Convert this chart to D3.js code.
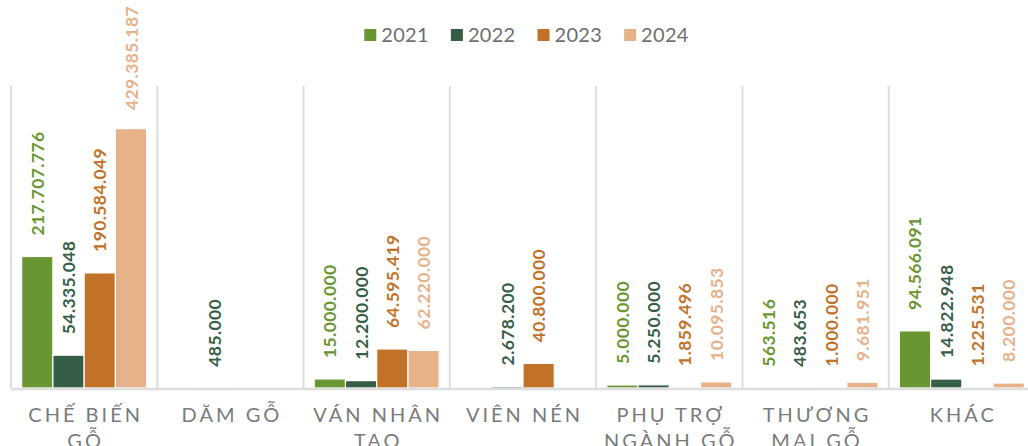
<!DOCTYPE html>
<html>
<head>
<meta charset="utf-8">
<script src="https://cdn.jsdelivr.net/npm/d3@7"></script>
<style>
  html, body { margin: 0; padding: 0; background: #fff; }
  svg { display: block; }
</style>
</head>
<body>
<svg id="chart" width="1028" height="446"></svg>
<script>
const categories = ["CHẾ BIẾN GỖ", "DĂM GỖ", "VÁN NHÂN TẠO", "VIÊN NÉN", "PHỤ TRỢ NGÀNH GỖ", "THƯƠNG MẠI GỖ", "KHÁC"];
const years = ["2021", "2022", "2023", "2024"];
const values2021 = [217707776, null, 15000000, null, 5000000, 563516, 94566091];
const values2022 = [54335048, 485000, 12200000, 2678200, 5250000, 483653, 14822948];
const values2023 = [190584049, null, 64595419, 40800000, 1859496, 1000000, 1225531];
const values2024 = [429385187, null, 62220000, null, 10095853, 9681951, 8200000];
const colors = ["#6a9632", "#365e46", "#c27128", "#e7b189"];

const seriesValues = [values2021, values2022, values2023, values2024];

const svg = d3.select("#chart");
const W = 1028, H = 446;
const plotLeft = 11, plotRight = 1035, plotTop = 86, plotBottom = 388;

const locale = d3.formatLocale({ decimal: ",", thousands: ".", grouping: [3], currency: ["", ""] });
const fmt = locale.format(",d");

const x0 = d3.scaleBand().domain(categories).range([plotLeft, plotRight]).paddingInner(0).paddingOuter(0);
const x1 = d3.scaleBand().domain(years).range([0, x0.bandwidth()]).paddingInner(0).paddingOuter(0.34);
const y = d3.scaleLinear().domain([0, 500000000]).range([plotBottom, plotTop]);

// vertical dividers
svg.append("g").selectAll("line").data(categories).join("line")
  .attr("x1", d => x0(d)).attr("x2", d => x0(d))
  .attr("y1", plotTop).attr("y2", plotBottom)
  .attr("stroke", "#dddddd").attr("stroke-width", 2);

// bars
const rows = [];
categories.forEach((c, ci) => {
  years.forEach((yr, si) => {
    const v = seriesValues[si][ci];
    if (v !== null && v !== undefined) rows.push({ c, yr, si, v });
  });
});

svg.append("g").selectAll("rect").data(rows).join("rect")
  .attr("x", d => x0(d.c) + x1(d.yr))
  .attr("y", d => y(d.v))
  .attr("width", x1.bandwidth())
  .attr("height", d => plotBottom - y(d.v))
  .attr("fill", d => colors[d.si])
  .attr("stroke", "#ffffff")
  .attr("stroke-width", 1.2);

// baseline
svg.append("line")
  .attr("x1", plotLeft).attr("x2", W)
  .attr("y1", plotBottom + 1).attr("y2", plotBottom + 1)
  .attr("stroke", "#dddddd").attr("stroke-width", 2.5);

// value labels
const labels = svg.append("g").selectAll("text").data(rows).join("text")
  .attr("font-family", "Lato, 'Open Sans', sans-serif")
  .attr("font-weight", "bold")
  .attr("font-size", 17.5)
  .attr("letter-spacing", "0.4px")
  .attr("fill", d => colors[d.si])
  .attr("text-anchor", "start")
  .attr("dominant-baseline", "central")
  .text(d => fmt(d.v));

labels.each(function(d) {
  const len = this.getComputedTextLength();
  let py = y(d.v) - 21;
  if (py - len < 6) py = 6 + len;
  const cx = x0(d.c) + x1(d.yr) + x1.bandwidth() / 2;
  d3.select(this).attr("transform", `translate(${cx},${py}) rotate(-90)`);
});

// category labels with wrapping
const catG = svg.append("g");
categories.forEach(c => {
  const cx = x0(c) + x0.bandwidth() / 2;
  const t = catG.append("text")
    .attr("font-family", "Lato, 'Open Sans', sans-serif")
    .attr("font-size", 20)
    .attr("letter-spacing", "3px")
    .attr("fill", "#7a7a7a")
    .attr("text-anchor", "middle")
    .attr("x", cx + 1.5).attr("y", 422);
  const words = c.split(" ");
  let line = [];
  let lineNo = 0;
  let ts = t.append("tspan").attr("x", cx + 1.5).attr("y", 422);
  words.forEach(w => {
    line.push(w);
    ts.text(line.join(" "));
    if (ts.node().getComputedTextLength() > 140 && line.length > 1) {
      line.pop();
      ts.text(line.join(" "));
      line = [w];
      lineNo++;
      ts = t.append("tspan").attr("x", cx + 1.5).attr("y", 422 + lineNo * 26).text(w);
    }
  });
});

// legend
const leg = svg.append("g");
const items = [];
years.forEach((yr, i) => {
  const g = leg.append("g");
  g.append("rect").attr("x", 0).attr("y", 29).attr("width", 12).attr("height", 12).attr("fill", colors[i]);
  const tx = g.append("text").attr("x", 17).attr("y", 41.5)
    .attr("font-family", "Lato, 'Open Sans', sans-serif")
    .attr("font-size", 20)
    .attr("letter-spacing", "0.3px")
    .attr("fill", "#6e6e6e")
    .text(yr);
  const w = 17 + tx.node().getComputedTextLength();
  items.push({ g, w });
});
const gap = 22;
const total = d3.sum(items, d => d.w) + gap * (items.length - 1);
let start = 526.5 - total / 2;
items.forEach(it => {
  it.g.attr("transform", `translate(${start},0)`);
  start += it.w + gap;
});
</script>
</body>
</html>
